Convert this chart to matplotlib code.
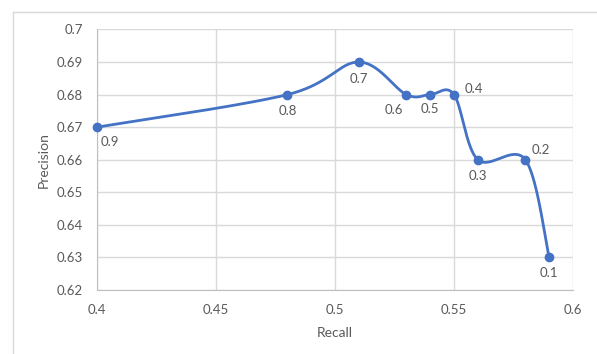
import numpy as np
import matplotlib.pyplot as plt
from matplotlib.lines import Line2D

# Precision / recall at each threshold
recall = [0.40, 0.48, 0.51, 0.53, 0.54, 0.55, 0.56, 0.58, 0.59]
precision = [0.67, 0.68, 0.69, 0.68, 0.68, 0.68, 0.66, 0.66, 0.63]
thresholds = ["0.9", "0.8", "0.7", "0.6", "0.5", "0.4", "0.3", "0.2", "0.1"]

# label offsets (points) for each threshold label
label_offsets = [(9, -11), (0, -12), (0, -12), (-9, -11), (0, -10),
                 (14, 4), (0, -12), (11, 7), (0, -11)]

x_ticks = [0.4, 0.45, 0.5, 0.55, 0.6]
y_ticks = [0.62, 0.63, 0.64, 0.65, 0.66, 0.67, 0.68, 0.69, 0.70]

blue = "#4472C4"
grid = "#d9d9d9"
text_col = "#595959"
plt.rcParams['font.family'] = ['Lato', 'DejaVu Sans']


def smooth(xs, ys, sx, sy, n=40):
    # Catmull-Rom style bezier smoothing, computed in scaled (screen-like) space
    px = np.asarray(xs) * sx
    py = np.asarray(ys) * sy
    P = np.column_stack([px, py])
    out = []
    for i in range(len(P) - 1):
        p0 = P[i - 1] if i > 0 else P[i]
        p1 = P[i]
        p2 = P[i + 1]
        p3 = P[i + 2] if i + 2 < len(P) else P[i + 1]
        c1 = p1 + (p2 - p0) / 6
        c2 = p2 - (p3 - p1) / 6
        t = np.linspace(0, 1, n)[:, None]
        seg = ((1 - t) ** 3) * p1 + 3 * ((1 - t) ** 2) * t * c1 + 3 * (1 - t) * t ** 2 * c2 + t ** 3 * p2
        out.append(seg if i == 0 else seg[1:])
    out = np.vstack(out)
    return out[:, 0] / sx, out[:, 1] / sy


fig = plt.figure(figsize=(5.97, 3.54), dpi=100)
ax = fig.add_axes([0.1625, 0.1808, 0.7973, 0.7359])

# outer chart frame (top and left edges)
fig.add_artist(Line2D([13 / 597, 13 / 597], [0, 1 - 12 / 354], color=grid, lw=1))
fig.add_artist(Line2D([13 / 597, 1], [1 - 12 / 354, 1 - 12 / 354], color=grid, lw=1))

sx = 475 / 0.2
sy = 261 / 0.08
cx, cy = smooth(recall, precision, sx, sy)
ax.plot(cx, cy, color=blue, lw=2, zorder=3, solid_capstyle='round', clip_on=False)
ax.plot(recall, precision, 'o', color=blue, ms=6, zorder=4, clip_on=False)

for x, y, t, (dx, dy) in zip(recall, precision, thresholds, label_offsets):
    ax.annotate(t, (x, y), xytext=(dx, dy), textcoords='offset points',
                ha='center', va='center', fontsize=9.5, color=text_col)

ax.set_xlim(0.4, 0.6)
ax.set_ylim(0.62, 0.70)
ax.set_xticks(x_ticks)
ax.set_yticks(y_ticks)
ax.set_xticklabels(["0.4", "0.45", "0.5", "0.55", "0.6"])
ax.set_yticklabels(["0.62", "0.63", "0.64", "0.65", "0.66", "0.67", "0.68", "0.69", "0.7"])
ax.tick_params(length=0, labelsize=9.5, colors=text_col)
ax.tick_params(axis='x', pad=10)
ax.tick_params(axis='y', pad=10)
ax.grid(True, color=grid, lw=1)
ax.set_axisbelow(True)
for s in ['top', 'right']:
    ax.spines[s].set_visible(False)
for s in ['left', 'bottom']:
    ax.spines[s].set_color("#bfbfbf")

ax.set_xlabel("Recall", fontsize=10, color=text_col, labelpad=8)
ax.set_ylabel("Precision", fontsize=10, color=text_col, labelpad=5)

fig.savefig("out.png", dpi=100)
